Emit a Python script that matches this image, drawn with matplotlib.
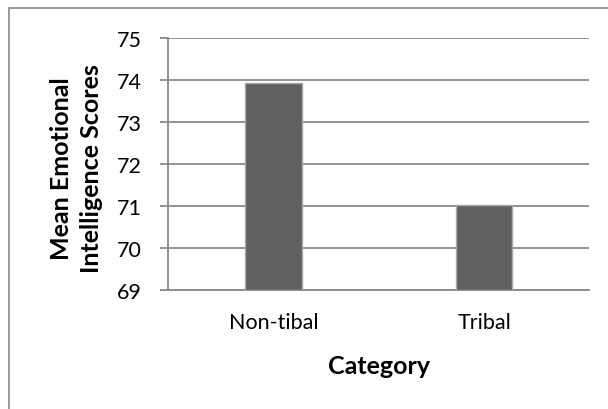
import matplotlib.pyplot as plt
from matplotlib.patches import Rectangle

categories = ['Non-tibal', 'Tribal']
mean_scores = [73.91, 71.02]
y_ticks = [69, 70, 71, 72, 73, 74, 75]

plt.rcParams['font.family'] = ['Lato', 'DejaVu Sans']

fig = plt.figure(figsize=(6.08, 4.10), dpi=100)
ax = fig.add_axes([168 / 608, 1 - 290.7 / 410, 421.4 / 608, 252 / 410])

grid_col = '#8a8a8a'
x = list(range(len(categories)))
ax.bar(x, [v - 69 for v in mean_scores], bottom=69, width=0.27,
       color='#606060', edgecolor='#a8a8a8', linewidth=1.0, zorder=3)

ax.set_xlim(-0.5, 1.5)
ax.set_ylim(69, 75)
ax.set_yticks(y_ticks)
ax.set_yticklabels([str(t) for t in y_ticks], fontsize=15.5)
ax.set_xticks(x)
ax.set_xticklabels(categories, fontsize=15.5)
ax.yaxis.grid(True, color=grid_col, linewidth=1.3, zorder=0)
ax.set_axisbelow(True)

for side in ['top', 'right']:
    ax.spines[side].set_visible(False)
for side in ['left', 'bottom']:
    ax.spines[side].set_color(grid_col)
    ax.spines[side].set_linewidth(1.3)

ax.tick_params(axis='y', length=6, width=1.3, color=grid_col, pad=13)
ax.tick_params(axis='x', length=0, pad=16)

fig.text(61.7 / 608, 1 - 169 / 410, 'Mean Emotional', rotation=90, fontsize=18,
         fontweight='bold', ha='center', va='center')
fig.text(91.7 / 608, 1 - 169 / 410, 'Intelligence Scores', rotation=90, fontsize=18,
         fontweight='bold', ha='center', va='center')
fig.text(378.7 / 608, 1 - 367 / 410, 'Category', fontsize=18, fontweight='bold',
         ha='center', va='center')

# outer chart border, open to the right and bottom
fig.patches.append(Rectangle((9 / 608, -0.1), 1.2, 1.1 - 9 / 410,
                             transform=fig.transFigure, fill=False,
                             edgecolor='#8a8a8a', linewidth=1.2, clip_on=False))

fig.savefig('out.png', dpi=100)
